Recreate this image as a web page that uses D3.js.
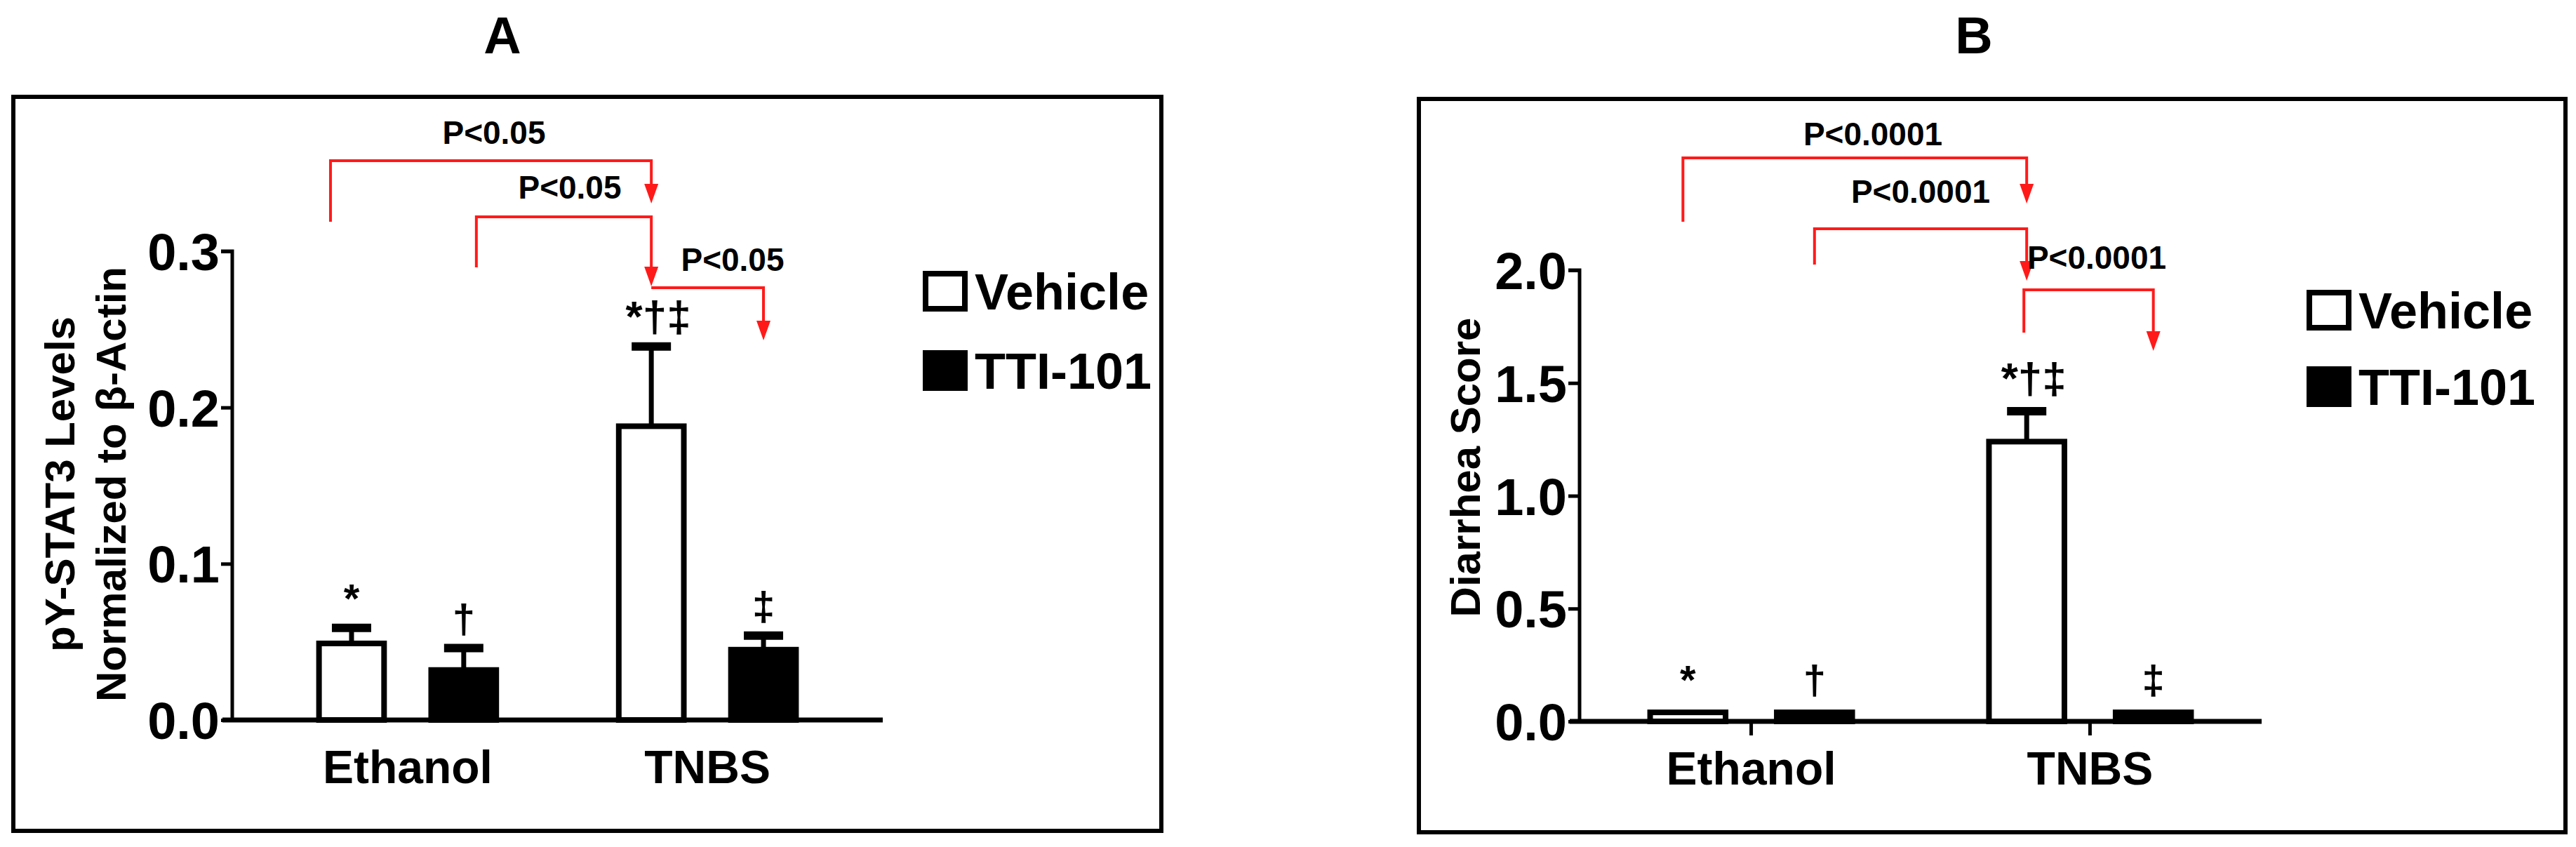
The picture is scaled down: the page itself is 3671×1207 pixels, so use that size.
<!DOCTYPE html>
<html>
<head>
<meta charset="utf-8">
<script src="https://cdn.jsdelivr.net/npm/d3@7"></script>
<style>
  body { margin: 0; background: #fff; }
  .narrow { font-family: "Liberation Sans Narrow", "Arial Narrow", "Liberation Sans", sans-serif; font-weight: bold; }
  .wide { font-family: "Liberation Sans", Arial, sans-serif; font-weight: bold; }
</style>
</head>
<body>
<svg id="fig" width="3671" height="1207"></svg>
<script>
'use strict';

// Categories and series
var groups = ['Ethanol', 'TNBS'];
var seriesNames = ['Vehicle', 'TTI-101'];

// Panel A: pY-STAT3 / beta-actin
var stat3Vehicle = [0.049, 0.188];
var stat3VehicleErr = [0.010, 0.051];
var stat3Tti = [0.032, 0.045];
var stat3TtiErr = [0.014, 0.009];
var stat3Ticks = [0, 0.1, 0.2, 0.3];
var stat3Marks = [['*', '†'], ['*†‡', '‡']];
var stat3P = ['P<0.05', 'P<0.05', 'P<0.05'];

// Panel B: diarrhea score
var diarVehicle = [0.04, 1.24];
var diarVehicleErr = [0, 0.135];
var diarTti = [0.04, 0.04];
var diarTtiErr = [0, 0];
var diarTicks = [0, 0.5, 1.0, 1.5, 2.0];
var diarMarks = [['*', '†'], ['*†‡', '‡']];
var diarP = ['P<0.0001', 'P<0.0001', 'P<0.0001'];

var svg = d3.select('#fig');
var red = '#ff1a1a';

function drawPanel(o) {
  var g = svg.append('g');

  // Title and frame
  g.append('text').attr('class', 'wide').attr('x', o.titleX).attr('y', 76)
    .attr('text-anchor', 'middle').attr('font-size', 74).text(o.title);
  g.append('rect').attr('x', o.box[0]).attr('y', o.box[1])
    .attr('width', o.box[2] - o.box[0]).attr('height', o.box[3] - o.box[1])
    .attr('fill', 'none').attr('stroke', '#000').attr('stroke-width', 6);

  var y = d3.scaleLinear().domain([0, o.yMax]).range([o.y0, o.yTop]);
  var x0 = d3.scaleBand().domain(groups).range([o.axisX, o.axisEnd])
    .paddingInner(o.padIn).paddingOuter(o.padOut);
  var x1 = d3.scaleBand().domain(seriesNames).range([0, x0.bandwidth()])
    .paddingInner(o.barPad);

  // Y axis
  var yAxis = d3.axisLeft(y).tickValues(o.ticks).tickSize(16)
    .tickFormat(d3.format(o.fmt));
  var ya = g.append('g').attr('transform', 'translate(' + o.axisX + ',0)').call(yAxis);
  ya.select('.domain').attr('stroke-width', 5).attr('d', 'M-16,' + o.yTop + 'H0V' + o.y0);
  ya.selectAll('.tick line').attr('stroke-width', 5);
  ya.selectAll('.tick text').attr('class', 'narrow').attr('font-size', 74)
    .attr('fill', '#000').attr('dy', '0.36em').attr('x', -18);

  // X axis
  g.append('line').attr('x1', o.axisX - 14).attr('x2', o.axisEnd)
    .attr('y1', o.y0).attr('y2', o.y0).attr('stroke', '#000').attr('stroke-width', 7);
  if (o.xTicks) {
    groups.forEach(function(d) {
      g.append('line').attr('x1', x0(d) + x0.bandwidth() / 2).attr('x2', x0(d) + x0.bandwidth() / 2)
        .attr('y1', o.y0).attr('y2', o.y0 + 20).attr('stroke', '#000').attr('stroke-width', 5);
    });
  }
  g.selectAll('.cat').data(groups).enter().append('text')
    .attr('class', 'narrow').attr('font-size', 66).attr('text-anchor', 'middle')
    .attr('x', function(d) { return x0(d) + x0.bandwidth() / 2; })
    .attr('y', o.y0 + 90).text(function(d) { return d; });

  // Bars with error bars and marks
  var rows = [];
  groups.forEach(function(grp, i) {
    rows.push({ g: grp, s: 'Vehicle', v: o.vehicle[i], e: o.vehicleErr[i], m: o.marks[i][0] });
    rows.push({ g: grp, s: 'TTI-101', v: o.tti[i], e: o.ttiErr[i], m: o.marks[i][1] });
  });
  var cx = function(d) { return x0(d.g) + x1(d.s) + x1.bandwidth() / 2; };

  rows.forEach(function(d) {
    var top = y(d.v + d.e);
    if (d.e > 0) {
      g.append('line').attr('x1', cx(d)).attr('x2', cx(d)).attr('y1', y(d.v)).attr('y2', top)
        .attr('stroke', '#000').attr('stroke-width', 7);
      g.append('line').attr('x1', cx(d) - 28).attr('x2', cx(d) + 28).attr('y1', top).attr('y2', top)
        .attr('stroke', '#000').attr('stroke-width', 12);
    }
    var sw = 8;
    g.append('rect').attr('x', x0(d.g) + x1(d.s) + sw / 2).attr('y', y(d.v))
      .attr('width', x1.bandwidth() - sw).attr('height', o.y0 - y(d.v))
      .attr('fill', d.s === 'Vehicle' ? '#fff' : '#000')
      .attr('stroke', '#000').attr('stroke-width', sw);
    g.append('text').attr('class', 'narrow').attr('text-anchor', 'middle')
      .attr('font-size', d.m.length > 1 ? 62 : 58)
      .attr('x', cx(d) + (d.m.length > 1 ? 10 : 0)).attr('y', top - o.markGap)
      .text(d.m);
  });

  // Significance brackets
  var centers = rows.map(cx);
  o.brackets.forEach(function(b, i) {
    var xl = centers[b.from] + (b.dxl || 0), xr = centers[b.to] + (b.dxr || 0);
    g.append('path').attr('fill', 'none').attr('stroke', red).attr('stroke-width', 4)
      .attr('d', 'M' + xl + ',' + b.yl + 'V' + b.y + 'H' + xr + 'V' + (b.tip - 26));
    g.append('path').attr('fill', red)
      .attr('d', 'M' + (xr - 10) + ',' + (b.tip - 28) + 'H' + (xr + 10) + 'L' + xr + ',' + b.tip + 'Z');
    g.append('text').attr('class', 'narrow').attr('font-size', 46).attr('text-anchor', 'middle')
      .attr('x', b.lx).attr('y', b.ly + 16).text(o.p[i]);
  });

  // Y label
  o.yLabel.forEach(function(t, i) {
    g.append('text').attr('class', 'wide').attr('font-size', 60).attr('text-anchor', 'middle')
      .attr('transform', 'translate(' + (o.yLabelX[i] + 22) + ',' + o.yLabelY + ') rotate(-90)')
      .text(t);
  });

  // Legend
  var lg = g.selectAll('.leg').data(seriesNames).enter().append('g')
    .attr('transform', function(d, i) { return 'translate(' + o.legX + ',' + o.legY[i] + ')'; });
  lg.append('rect').attr('x', 4).attr('y', -25).attr('width', 56).attr('height', 50)
    .attr('fill', function(d, i) { return i ? '#000' : '#fff'; })
    .attr('stroke', '#000').attr('stroke-width', 8);
  lg.append('text').attr('class', 'narrow').attr('font-size', 72).attr('x', 74).attr('y', 26)
    .text(function(d) { return d; });
}

drawPanel({
  title: 'A', titleX: 716, box: [19, 138, 1655, 1184],
  yMax: 0.3, y0: 1026, yTop: 358, ticks: stat3Ticks, fmt: '.1f',
  axisX: 331, axisEnd: 1258, padIn: 0.39, padOut: 0.28, barPad: 0.37, xTicks: false,
  vehicle: stat3Vehicle, vehicleErr: stat3VehicleErr, tti: stat3Tti, ttiErr: stat3TtiErr,
  marks: stat3Marks, p: stat3P, markGap: 22,
  brackets: [
    { from: 0, to: 2, dxl: -30, y: 229, yl: 316, tip: 290, lx: 704, ly: 189 },
    { from: 1, to: 2, dxl: 18, y: 309, yl: 381, tip: 408, lx: 812, ly: 267 },
    { from: 2, to: 3, y: 410, yl: 410, tip: 485, lx: 1044, ly: 370 }
  ],
  yLabel: ['pY-STAT3 Levels', 'Normalized to β-Actin'], yLabelX: [84, 157], yLabelY: 690,
  legX: 1315, legY: [415, 528]
});

drawPanel({
  title: 'B', titleX: 2813, box: [2022, 141, 3656, 1186],
  yMax: 2.0, y0: 1028, yTop: 385, ticks: diarTicks, fmt: '.1f',
  axisX: 2251, axisEnd: 3223, padIn: 0.387, padOut: 0.2, barPad: 0.36, xTicks: true,
  vehicle: diarVehicle, vehicleErr: diarVehicleErr, tti: diarTti, ttiErr: diarTtiErr,
  marks: diarMarks, p: diarP, markGap: 26,
  brackets: [
    { from: 0, to: 2, dxl: -7, y: 225, yl: 316, tip: 290, lx: 2669, ly: 191 },
    { from: 1, to: 2, y: 326, yl: 377, tip: 400, lx: 2737, ly: 273 },
    { from: 2, to: 3, dxl: -4, y: 413, yl: 474, tip: 500, lx: 2988, ly: 367 }
  ],
  yLabel: ['Diarrhea Score'], yLabelX: [2087], yLabelY: 666,
  legX: 3287, legY: [442, 551]
});
</script>
</body>
</html>
